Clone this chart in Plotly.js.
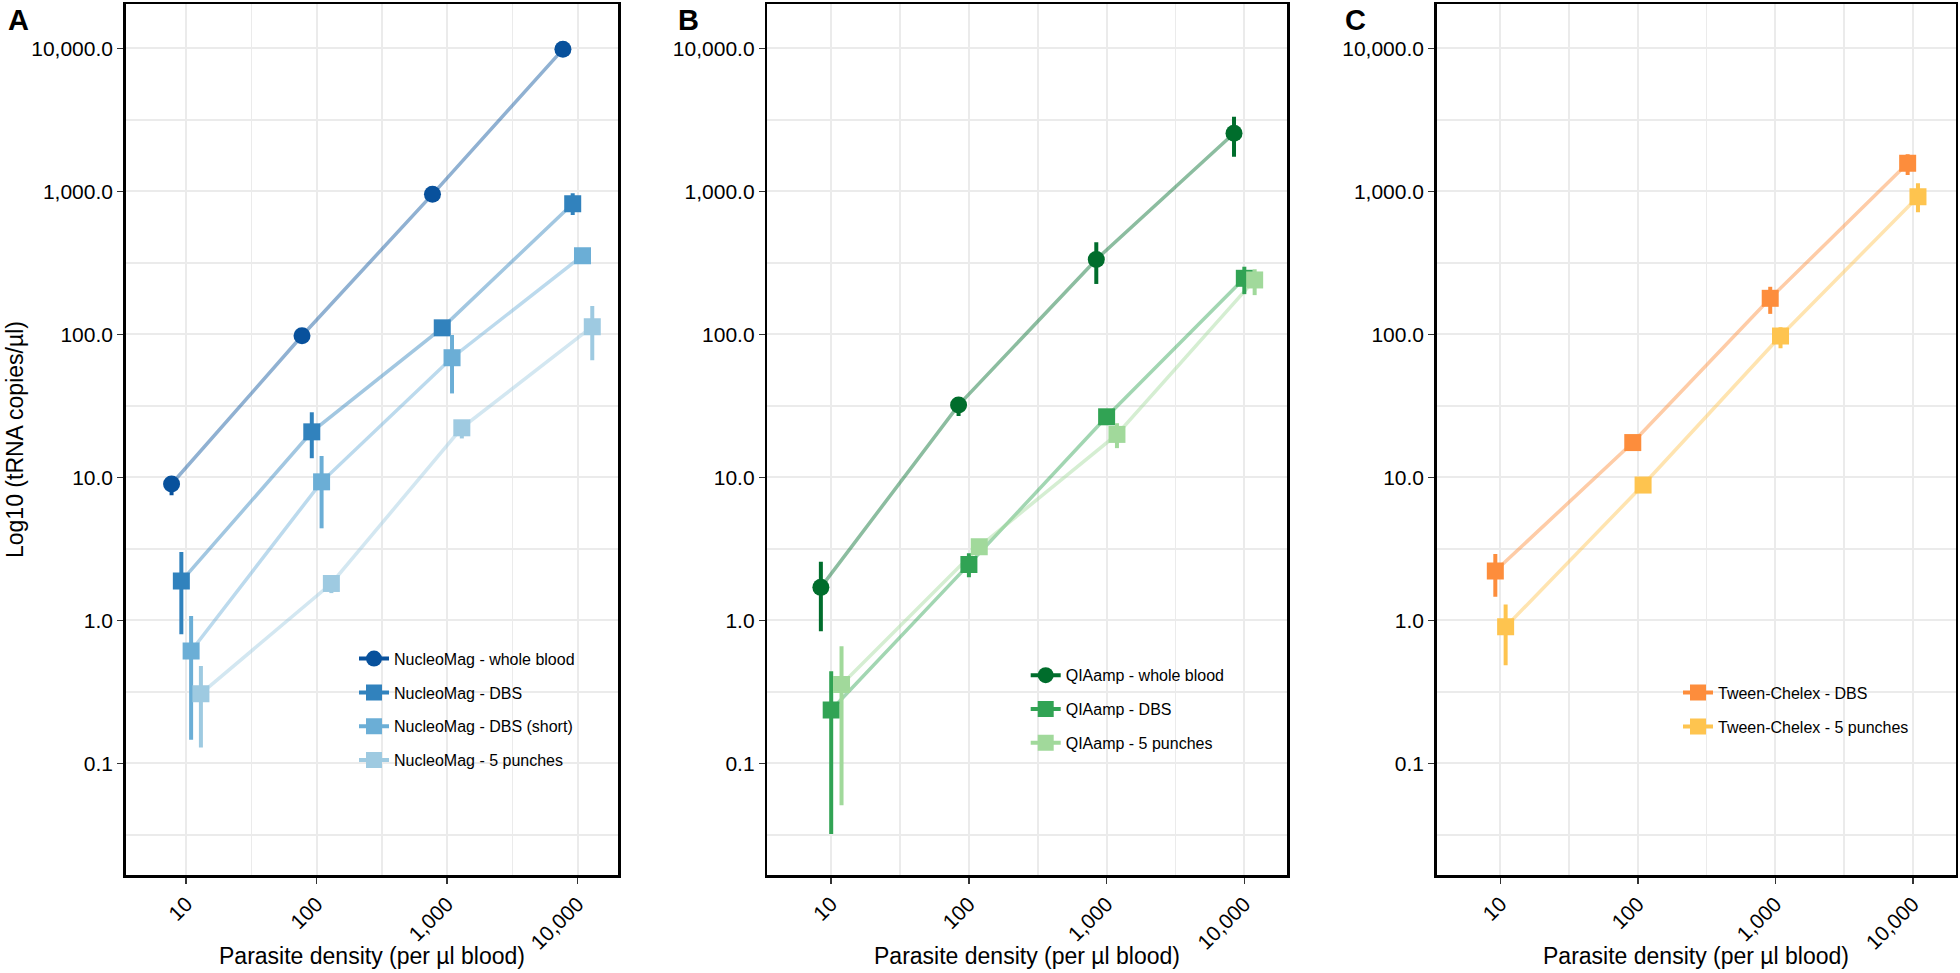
<!DOCTYPE html>
<html>
<head>
<meta charset="utf-8">
<script src="https://cdn.plot.ly/plotly-3.0.1.min.js"></script>
<style>html,body{margin:0;padding:0;background:#fff;}#chart{width:1960px;height:973px;}</style>
</head>
<body>
<div id="chart"></div>
<script>
// ---------- DATA ----------
const density = [10, 100, 1000, 10000];
const xTickLabels = ["10", "100", "1,000", "10,000"];
const yTickVals = [0.1, 1, 10, 100, 1000, 10000];
const yTickLabels = ["0.1", "1.0", "10.0", "100.0", "1,000.0", "10,000.0"];
const xTitle = "Parasite density (per µl blood)";
const yTitle = "Log10 (tRNA copies/µl)";
const panelLetters = ["A", "B", "C"];

// Panel A – NucleoMag
const nmNames = ["NucleoMag - whole blood", "NucleoMag - DBS", "NucleoMag - DBS (short)", "NucleoMag - 5 punches"];
const nmWholeBlood = [8.98, 97.7, 953, 9840];
const nmWholeBloodLo = [7.5, 92, 900, 9300];
const nmWholeBloodHi = [9.7, 103, 1005, 10300];
const nmDBS = [1.88, 20.8, 111, 819];
const nmDBSLo = [0.80, 13.6, 104, 683];
const nmDBSHi = [3.0, 28.5, 118, 968];
const nmDBSshort = [0.61, 9.3, 68.6, 355];
const nmDBSshortLo = [0.146, 4.4, 38.6, 330];
const nmDBSshortHi = [1.07, 14.1, 98.9, 380];
const nm5punch = [0.307, 1.81, 22.2, 113];
const nm5punchLo = [0.129, 1.55, 18.7, 66];
const nm5punchHi = [0.48, 2.0, 24.5, 158];

// Panel B – QIAamp
const qaNames = ["QIAamp - whole blood", "QIAamp - DBS", "QIAamp - 5 punches"];
const qaWholeBlood = [1.70, 32.0, 334, 2546];
const qaWholeBloodLo = [0.84, 26.8, 225, 1746];
const qaWholeBloodHi = [2.57, 35, 440, 3327];
const qaDBS = [0.236, 2.46, 26.5, 246.5];
const qaDBSLo = [0.032, 2.0, 24.5, 191];
const qaDBSHi = [0.44, 2.94, 28.5, 297];
const qa5punch = [0.356, 3.27, 19.96, 240];
const qa5punchLo = [0.051, 3.0, 16.0, 188];
const qa5punchHi = [0.66, 3.5, 23.9, 285];

// Panel C – Tween-Chelex
const tcNames = ["Tween-Chelex - DBS", "Tween-Chelex - 5 punches"];
const tcDBS = [2.21, 17.5, 178.6, 1570];
const tcDBSLo = [1.46, 16.3, 139, 1300];
const tcDBSHi = [2.91, 18.8, 215, 1815];
const tc5punch = [0.90, 8.83, 97.3, 916];
const tc5punchLo = [0.486, 8.3, 79.8, 713];
const tc5punchHi = [1.29, 9.4, 112, 1137];

// ---------- STYLE ----------
const FONT = "Liberation Sans, Arial, Helvetica, sans-serif";
const W = 1960, H = 973;
function px2x(p) { return p / W; }
function px2y(p) { return (H - p) / H; }
function rgba(hex, a) {
  const r = parseInt(hex.slice(1,3),16), g = parseInt(hex.slice(3,5),16), b = parseInt(hex.slice(5,7),16);
  return `rgba(${r},${g},${b},${a})`;
}

const panels = [
  { ax: "", legend: "legend", names: nmNames,
    colors: ["#08519c", "#3182bd", "#6baed6", "#9ecae1"],
    symbols: ["circle", "square", "square", "square"],
    series: [[nmWholeBlood, nmWholeBloodLo, nmWholeBloodHi], [nmDBS, nmDBSLo, nmDBSHi],
             [nmDBSshort, nmDBSshortLo, nmDBSshortHi], [nm5punch, nm5punchLo, nm5punchHi]] },
  { ax: "2", legend: "legend2", names: qaNames,
    colors: ["#006d2c", "#31a354", "#a1d99b"],
    symbols: ["circle", "square", "square"],
    series: [[qaWholeBlood, qaWholeBloodLo, qaWholeBloodHi], [qaDBS, qaDBSLo, qaDBSHi],
             [qa5punch, qa5punchLo, qa5punchHi]] },
  { ax: "3", legend: "legend3", names: tcNames,
    colors: ["#fd8d3c", "#fec44f"],
    symbols: ["square", "square"],
    series: [[tcDBS, tcDBSLo, tcDBSHi], [tc5punch, tc5punchLo, tc5punchHi]] }
];

const DODGE = 0.075; // log10 units between dodged groups (position_dodge)
const lineTraces = [], pointTraces = [], legendTraces = [];
panels.forEach(p => {
  const n = p.series.length;
  p.series.forEach((s, i) => {
    const off = Math.pow(10, (i - (n - 1) / 2) * DODGE);
    const xs = density.map(d => d * off);
    const [v, lo, hi] = s;
    lineTraces.push({
      type: "scatter", mode: "lines", x: xs, y: v,
      xaxis: "x" + p.ax, yaxis: "y" + p.ax, showlegend: false, hoverinfo: "skip",
      line: { color: rgba(p.colors[i], 0.45), width: 3.5 }
    });
    pointTraces.push({
      type: "scatter", mode: "markers", x: xs, y: v,
      xaxis: "x" + p.ax, yaxis: "y" + p.ax, showlegend: false,
      marker: { symbol: p.symbols[i], size: 17, color: p.colors[i] },
      error_y: { type: "data", symmetric: false,
                 array: hi.map((h, k) => h - v[k]), arrayminus: lo.map((l, k) => v[k] - l),
                 color: p.colors[i], thickness: 4, width: 0 }
    });
    legendTraces.push({
      type: "scatter", mode: "lines+markers", x: [null], y: [null],
      xaxis: "x" + p.ax, yaxis: "y" + p.ax, name: p.names[i], legend: p.legend,
      legendgroup: p.legend + "_" + i, showlegend: true,
      marker: { symbol: p.symbols[i], size: 17, color: p.colors[i] },
      line: { color: p.colors[i], width: 4 }
    });
  });
});

const xDomains = [[125.7, 618.3], [767.3, 1287.3], [1436.7, 1955.7]];
const yDomain = [px2y(875), px2y(4)];
const xMinor = [Math.pow(10,1.5), Math.pow(10,2.5), Math.pow(10,3.5)];
const yMinor = [Math.pow(10,-1.5), Math.pow(10,-0.5), Math.pow(10,0.5), Math.pow(10,1.5), Math.pow(10,2.5), Math.pow(10,3.5)];

const tickFont = { family: FONT, size: 21, color: "#000" };
const titleFont = { family: FONT, size: 23, color: "#000" };

const layout = {
  width: W, height: H,
  margin: { l: 0, r: 0, t: 0, b: 0 },
  paper_bgcolor: "#fff", plot_bgcolor: "#fff",
  font: { family: FONT, color: "#000" },
  showlegend: true,
  annotations: [],
  shapes: []
};

["", "2", "3"].forEach((a, idx) => {
  layout["xaxis" + a] = {
    type: "log", domain: [px2x(xDomains[idx][0]), px2x(xDomains[idx][1])],
    range: [0.536, 4.312], anchor: "y" + a,
    tickmode: "array", tickvals: density, ticktext: xTickLabels, tickangle: -45,
    ticks: "outside", ticklen: 6, tickwidth: 1.5, tickcolor: "#333",
    tickfont: tickFont,
    showgrid: true, gridcolor: "#ebebeb", gridwidth: 2,
    minor: { tickmode: "array", tickvals: xMinor, showgrid: true, gridcolor: "#ebebeb", gridwidth: 1.5, ticks: "" },
    showline: true, mirror: true, linecolor: "#000", linewidth: 2.5, zeroline: false
  };
  layout["yaxis" + a] = {
    type: "log", domain: yDomain, range: [-1.781, 4.31], anchor: "x" + a,
    tickmode: "array", tickvals: yTickVals, ticktext: yTickLabels,
    ticks: "outside", ticklen: 6, tickwidth: 1.5, tickcolor: "#333",
    tickfont: tickFont,
    showgrid: true, gridcolor: "#ebebeb", gridwidth: 2,
    minor: { tickmode: "array", tickvals: yMinor, showgrid: true, gridcolor: "#ebebeb", gridwidth: 1.5, ticks: "" },
    showline: true, mirror: true, linecolor: "#000", linewidth: 2.5, zeroline: false
  };
  // x-axis title, centred under each panel
  layout.annotations.push({
    text: xTitle, xref: "paper", yref: "paper",
    x: px2x((xDomains[idx][0] + xDomains[idx][1]) / 2), y: px2y(956),
    xanchor: "center", yanchor: "middle", showarrow: false, font: titleFont
  });
});

// y-axis title (panel A only)
layout.annotations.push({
  text: yTitle, xref: "paper", yref: "paper", x: px2x(15), y: px2y(440),
  xanchor: "center", yanchor: "middle", textangle: -90, showarrow: false, font: titleFont
});

// panel letters
[[panelLetters[0], 18.5], [panelLetters[1], 688], [panelLetters[2], 1355.5]].forEach(([t, cx]) => {
  layout.annotations.push({
    text: "<b>" + t + "</b>", xref: "paper", yref: "paper", x: px2x(cx), y: px2y(20),
    xanchor: "center", yanchor: "middle", showarrow: false,
    font: { family: FONT, size: 29, color: "#000" }
  });
});

// legend boxes (white background patches, as in the reference)
const legendBoxes = [[347.5, 618, 593, 785], [1019, 635, 1244, 768], [1671, 652, 1930, 752]];
legendBoxes.forEach(b => {
  layout.shapes.push({
    type: "rect", xref: "paper", yref: "paper", layer: "between",
    x0: px2x(b[0]), x1: px2x(b[2]), y0: px2y(b[3]), y1: px2y(b[1]),
    fillcolor: "#fff", line: { width: 0 }
  });
});

const legFont = { family: FONT, size: 16, color: "#000" };
const legBase = { bgcolor: "rgba(0,0,0,0)", borderwidth: 0, font: legFont, xanchor: "left", yanchor: "top",
                  tracegroupgap: 10, itemsizing: "trace", traceorder: "grouped" };
layout.legend = Object.assign({}, legBase, { x: px2x(374 - 20), y: px2y(656.7 - 15) });
layout.legend2 = Object.assign({}, legBase, { x: px2x(1045.7 - 20), y: px2y(673.3 - 15) });
layout.legend3 = Object.assign({}, legBase, { x: px2x(1698 - 20), y: px2y(690.7 - 15) });

Plotly.newPlot("chart", [...lineTraces, ...pointTraces, ...legendTraces], layout, { staticPlot: true });
</script>
</body>
</html>
